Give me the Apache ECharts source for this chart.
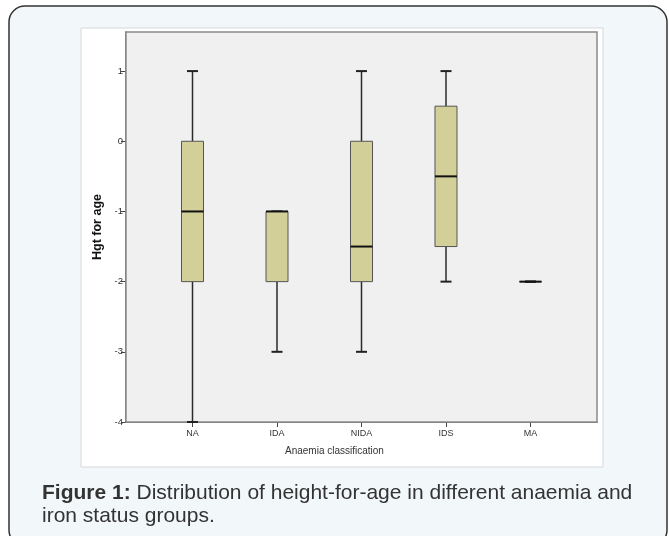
<!DOCTYPE html>
<html>
<head>
<meta charset="utf-8">
<script src="https://cdn.jsdelivr.net/npm/echarts@6/dist/echarts.min.js"></script>
<style>
html,body{margin:0;padding:0;background:#ffffff;}
#chart{width:669px;height:536px;}
</style>
</head>
<body>
<div id="chart"></div>
<script>
// Data
var categories = ['NA', 'IDA', 'NIDA', 'IDS', 'MA'];
var whiskerLow  = [-4, -3, -3,   -2,   -2];
var quartile1   = [-2, -2, -2,   -1.5, -2];
var medians     = [-1, -1, -1.5, -0.5, -2];
var quartile3   = [ 0, -1,  0,    0.5, -2];
var whiskerHigh = [ 1, -1,  1,    1,   -2];
var yTicks = [-4, -3, -2, -1, 0, 1];
var xTicks = [1, 2, 3, 4, 5];

var boxData = categories.map(function (c, i) {
  return [i + 1, whiskerLow[i], quartile1[i], medians[i], quartile3[i], whiskerHigh[i]];
});

var chart = echarts.init(document.getElementById('chart'), null, {renderer: 'canvas'});

function renderBox(params, api) {
  var x = api.value(0);
  var pLow = api.coord([x, api.value(1)]);
  var pQ1 = api.coord([x, api.value(2)]);
  var pMed = api.coord([x, api.value(3)]);
  var pQ3 = api.coord([x, api.value(4)]);
  var pHigh = api.coord([x, api.value(5)]);
  var cx = pLow[0];
  var bw = 22, cw = 11;
  var wStyle = {stroke: '#2a2a2a', lineWidth: 1.5};
  var children = [];
  children.push({type: 'line', shape: {x1: cx, y1: pLow[1], x2: cx, y2: pQ1[1]}, style: wStyle});
  children.push({type: 'line', shape: {x1: cx, y1: pQ3[1], x2: cx, y2: pHigh[1]}, style: wStyle});
  children.push({type: 'line', shape: {x1: cx - cw / 2, y1: pLow[1], x2: cx + cw / 2, y2: pLow[1]}, style: {stroke: '#222', lineWidth: 2}});
  children.push({type: 'line', shape: {x1: cx - cw / 2, y1: pHigh[1], x2: cx + cw / 2, y2: pHigh[1]}, style: {stroke: '#222', lineWidth: 2}});
  children.push({type: 'rect', shape: {x: cx - bw / 2, y: pQ3[1], width: bw, height: pQ1[1] - pQ3[1]},
    style: {fill: '#d3cf99', stroke: '#555', lineWidth: 1}});
  children.push({type: 'line', shape: {x1: cx - bw / 2, y1: pMed[1], x2: cx + bw / 2, y2: pMed[1]}, style: {stroke: '#111', lineWidth: 2}});
  return {type: 'group', children: children};
}

var option = {
  animation: false,
  backgroundColor: '#ffffff',
  grid: {
    left: 126, top: 32, width: 471, height: 390,
    show: true, backgroundColor: '#f0f0f0', borderColor: '#8a8a8a', borderWidth: 1.5, z: 1
  },
  xAxis: {
    type: 'value',
    min: 0.213, max: 5.787,
    splitLine: {show: false},
    axisLine: {show: true, onZero: false, lineStyle: {color: '#444', width: 1.5}},
    axisTick: {show: true, customValues: xTicks, length: 5, lineStyle: {color: '#444'}},
    axisLabel: {
      customValues: xTicks,
      formatter: function (v) { return categories[Math.round(v) - 1] || ''; },
      color: '#333', fontSize: 9, fontFamily: 'Liberation Sans, Arial, sans-serif', margin: 7
    }
  },
  yAxis: {
    type: 'value',
    min: -4, max: 1.557,
    splitLine: {show: false},
    name: 'Hgt for age',
    nameLocation: 'middle',
    nameRotate: 90,
    nameGap: 14,
    nameTextStyle: {color: '#111', fontSize: 12.5, fontWeight: 'bold', fontFamily: 'Liberation Sans, Arial, sans-serif'},
    axisLine: {show: true, lineStyle: {color: '#555', width: 1.5}},
    axisTick: {show: true, customValues: yTicks, length: 5, lineStyle: {color: '#444'}},
    axisLabel: {
      customValues: yTicks,
      color: '#333', fontSize: 9.5, fontFamily: 'Liberation Sans, Arial, sans-serif', margin: 3
    }
  },
  graphic: [
    {type: 'rect', z: -20, shape: {x: 9, y: 6, width: 658, height: 540, r: 16},
      style: {fill: '#f2f7fa', stroke: '#333', lineWidth: 1.5}},
    {type: 'rect', z: -15, shape: {x: 81, y: 28, width: 522, height: 439},
      style: {fill: '#ffffff', stroke: '#d4d8dc', lineWidth: 1}},
    {type: 'text', z: 5, left: 285, top: 446,
      style: {text: 'Anaemia classification', fill: '#333', fontSize: 10, fontFamily: 'Liberation Sans, Arial, sans-serif'}},
    {type: 'text', z: 5, left: 42, top: 482,
      style: {
        text: '{b|Figure 1:} Distribution of height-for-age in different anaemia and\niron status groups.',
        fill: '#333', fontSize: 21, lineHeight: 23, fontFamily: 'Liberation Sans, Arial, sans-serif',
        rich: {b: {fontWeight: 'bold', fontSize: 21, lineHeight: 23, fill: '#333', fontFamily: 'Liberation Sans, Arial, sans-serif'}}
      }}
  ],
  series: [{
    type: 'custom',
    renderItem: renderBox,
    data: boxData,
    encode: {x: 0, y: [1, 2, 3, 4, 5]},
    z: 3,
    clip: false
  }]
};
chart.setOption(option);
</script>
</body>
</html>
